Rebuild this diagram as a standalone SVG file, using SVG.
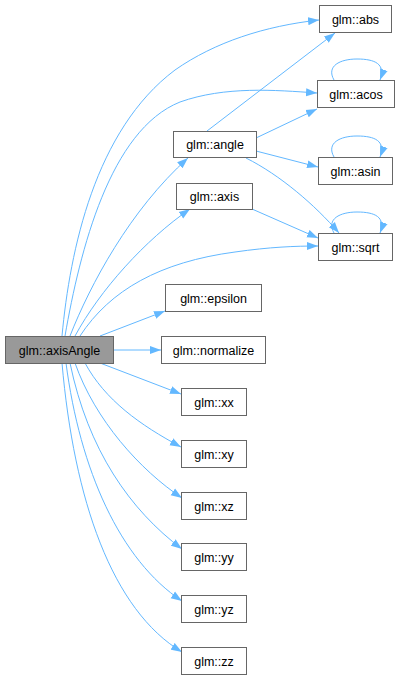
<svg xmlns="http://www.w3.org/2000/svg" width="401" height="681" viewBox="0 0 401 681">
<style>
.n rect{fill:#ffffff;stroke:#666666;stroke-width:1}
.m rect{fill:#999999;stroke:#666666;stroke-width:1}
text{font-family:"Liberation Sans",Arial,sans-serif;font-size:12.5px;fill:#000;text-anchor:middle}
.e path{fill:none;stroke:#63b8ff;stroke-width:1;marker-end:url(#a)}
</style>
<defs>
<marker id="a" markerUnits="userSpaceOnUse" markerWidth="12" markerHeight="9" refX="11" refY="4.5" orient="auto">
<path d="M0,0.5 L11,4.5 L0,8.5 z" fill="#63b8ff"/>
</marker>
</defs>
<rect width="401" height="681" fill="#ffffff"/>
<g id="edges" class="e">
<path d="M62,336 C70,250 95,130 175,70 C215,42 265,26 319,20"/>
<path d="M65,336 C80,250 110,130 180,102 C225,86 275,90 317,93"/>
<path d="M70,336 C90,285 130,210 188,158"/>
<path d="M75,336 C100,290 145,240 190,209"/>
<path d="M80,336 C110,290 160,262 235,252 C270,247 295,246 318,246"/>
<path d="M100,336 L165,311"/>
<path d="M113,350 L161,350"/>
<path d="M100,363 L181,394"/>
<path d="M85,363 C105,400 140,425 181,447"/>
<path d="M75,363 C95,420 140,470 182,498"/>
<path d="M70,363 C88,450 130,510 182,549"/>
<path d="M66,363 C80,470 120,560 182,601"/>
<path d="M62,363 C74,500 112,610 182,652"/>
<path d="M207,131 L335,33"/>
<path d="M256,138 L317,109"/>
<path d="M256,151 L318,167"/>
<path d="M246,158 C280,175 315,205 339,233"/>
<path d="M252,209 L318,238"/>
<path d="M334,80 C326,66 340,59 357,59 C375,59 386,64 380,80"/>
<path d="M334,157 C326,143 340,136 357,136 C375,136 386,141 380,157"/>
<path d="M334,233 C326,219 340,212 357,212 C375,212 386,217 380,233"/>
</g>
<g id="axisAngle" class="m"><rect x="5.5" y="336.5" width="108" height="27"/><text x="59.5" y="354.5">glm::axisAngle</text></g>
<g id="abs" class="n"><rect x="319.5" y="5.5" width="72" height="27"/><text x="355.5" y="23.5">glm::abs</text></g>
<g id="acos" class="n"><rect x="317.5" y="80.5" width="77" height="27"/><text x="356" y="98.5">glm::acos</text></g>
<g id="angle" class="n"><rect x="173.5" y="131.5" width="83" height="26"/><text x="215" y="149">glm::angle</text></g>
<g id="asin" class="n"><rect x="318.5" y="157.5" width="74" height="27"/><text x="355.5" y="175.5">glm::asin</text></g>
<g id="axis" class="n"><rect x="176.5" y="183.5" width="76" height="26"/><text x="214.5" y="201">glm::axis</text></g>
<g id="sqrt" class="n"><rect x="318.5" y="233.5" width="74" height="27"/><text x="355.5" y="251.5">glm::sqrt</text></g>
<g id="epsilon" class="n"><rect x="165.5" y="284.5" width="96" height="27"/><text x="213.5" y="302.5">glm::epsilon</text></g>
<g id="normalize" class="n"><rect x="161.5" y="336.5" width="104" height="27"/><text x="213.5" y="354.5">glm::normalize</text></g>
<g id="xx" class="n"><rect x="181.5" y="388.5" width="65" height="27"/><text x="214" y="406.5">glm::xx</text></g>
<g id="xy" class="n"><rect x="181.5" y="440.5" width="65" height="27"/><text x="214" y="458.5">glm::xy</text></g>
<g id="xz" class="n"><rect x="181.5" y="492.5" width="65" height="27"/><text x="214" y="510.5">glm::xz</text></g>
<g id="yy" class="n"><rect x="181.5" y="543.5" width="65" height="27"/><text x="214" y="561.5">glm::yy</text></g>
<g id="yz" class="n"><rect x="181.5" y="595.5" width="65" height="27"/><text x="214" y="613.5">glm::yz</text></g>
<g id="zz" class="n"><rect x="181.5" y="647.5" width="65" height="27"/><text x="214" y="665.5">glm::zz</text></g>
</svg>
